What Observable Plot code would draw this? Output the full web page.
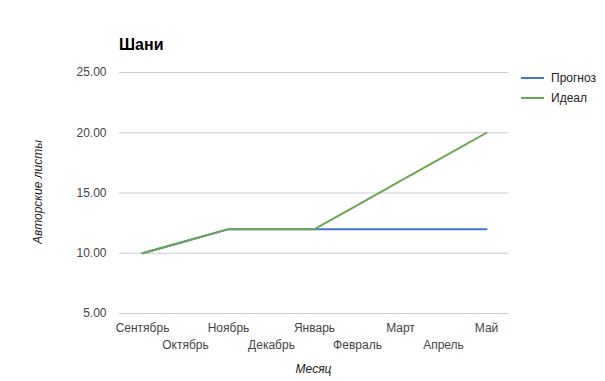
<!DOCTYPE html>
<html>
<head>
<meta charset="utf-8">
<script src="https://cdn.jsdelivr.net/npm/d3@7"></script>
<script src="https://cdn.jsdelivr.net/npm/@observablehq/plot@0.6"></script>
<style>
  html, body { margin: 0; padding: 0; background: #fff; }
  body { width: 605px; height: 381px; position: relative; overflow: hidden; font-family: "Liberation Sans", Arial, sans-serif; }
  #chart { position: absolute; left: 0; top: 0; }
  .title { position: absolute; left: 119px; top: 36px; font-size: 16px; font-weight: bold; color: #000; }
  .legend { position: absolute; left: 521px; top: 68px; font-size: 12px; color: #222; }
  .legend .item { display: flex; align-items: center; height: 20px; }
  .legend .sw { width: 23px; height: 2px; margin-right: 7px; }
  .xtitle { position: absolute; left: 0; width: 627px; text-align: center; top: 362px; font-size: 12px; font-style: italic; color: #222; }
  .ytitle { position: absolute; left: 38px; top: 192px; font-size: 12px; font-style: italic; color: #222; transform: translate(-50%, -50%) rotate(-90deg); white-space: nowrap; }
</style>
</head>
<body>
<div id="chart"></div>
<div class="title">Шани</div>
<div class="legend" id="legend"></div>
<div class="xtitle">Месяц</div>
<div class="ytitle">Авторские листы</div>
<script>
const months = ["Сентябрь", "Октябрь", "Ноябрь", "Декабрь", "Январь", "Февраль", "Март", "Апрель", "Май"];
const forecast = [10, 11, 12, 12, 12, 12, 12, 12, 12];
const ideal = [10, 11, 12, 12, 12, 14, 16, 18, 20];
const seriesNames = ["Прогноз", "Идеал"];
const seriesColors = ["#3c78d8", "#6aa84f"];
const yTicks = [5, 10, 15, 20, 25];

const data = [];
months.forEach((m, i) => {
  data.push({month: m, value: forecast[i], series: seriesNames[0]});
  data.push({month: m, value: ideal[i], series: seriesNames[1]});
});

const row1 = months.filter((d, i) => i % 2 === 0);
const row2 = months.filter((d, i) => i % 2 === 1);

const plot = Plot.plot({
  width: 605,
  height: 381,
  marginLeft: 119,
  marginRight: 97,
  marginTop: 72,
  marginBottom: 68,
  style: { fontFamily: "Liberation Sans, Arial, sans-serif", fontSize: "12px", color: "#444", background: "transparent" },
  x: { type: "point", domain: months, padding: 0.5, label: null },
  y: { domain: [5, 25], label: null },
  color: { domain: seriesNames, range: seriesColors },
  marks: [
    Plot.ruleY(yTicks, { stroke: "#cccccc", strokeWidth: 1 }),
    Plot.axisY({ ticks: yTicks, tickFormat: d3.format(".2f"), tickSize: 0, tickPadding: 13, label: null, fill: "#444" }),
    Plot.axisX({ ticks: row1, tickSize: 0, tickPadding: 10, label: null, fill: "#444" }),
    Plot.axisX({ ticks: row2, tickSize: 0, tickPadding: 27, label: null, fill: "#444" }),
    Plot.line(data, { x: "month", y: "value", z: "series", stroke: "series", strokeWidth: 2 })
  ]
});
document.getElementById("chart").appendChild(plot);

const legend = document.getElementById("legend");
seriesNames.forEach((name, i) => {
  const item = document.createElement("div");
  item.className = "item";
  const sw = document.createElement("span");
  sw.className = "sw";
  sw.style.background = seriesColors[i];
  const t = document.createElement("span");
  t.textContent = name;
  item.appendChild(sw);
  item.appendChild(t);
  legend.appendChild(item);
});
</script>
</body>
</html>
